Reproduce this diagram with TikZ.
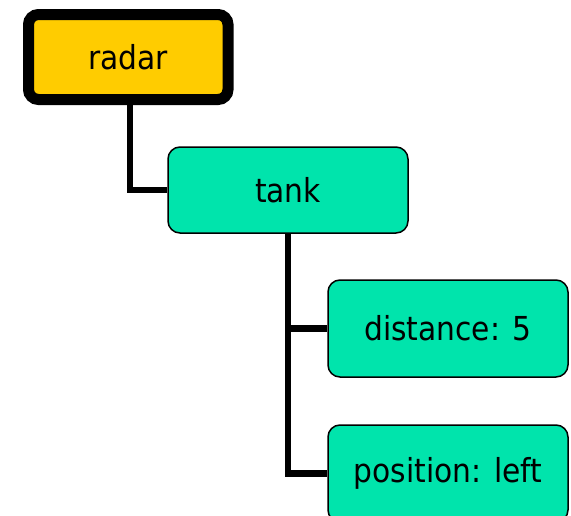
\documentclass[tikz,border=0pt]{standalone}
\usepackage{fontspec}
\setmainfont{DejaVu Sans Condensed}
\definecolor{rootfill}{HTML}{FFCC00}
\definecolor{leaffill}{HTML}{00E4AC}
\pgfdeclarelayer{back}
\pgfsetlayers{back,main}
\begin{document}
\begin{tikzpicture}[x=1pt,y=-1pt,
  boxfont/.style={font=\fontsize{33}{40}\selectfont},
  rootbox/.style={draw=black, line width=11pt, fill=rootfill, rounded corners=10pt,
    minimum width=199.5pt, minimum height=85pt, inner sep=0pt, boxfont},
  itembox/.style={draw=black, line width=1.5pt, fill=leaffill, rounded corners=12pt,
    minimum width=240pt, inner sep=0pt, boxfont},
  conn/.style={draw=black, line width=6.5pt}]
  \useasboundingbox (0,0) rectangle (571,515);
  \node[rootbox] (radar) at (128.25,57) {radar};
  \node[itembox, minimum height=86pt] (tank) at (288,190) {tank};
  \node[itembox, minimum height=97pt] (dist) at (448,328.5) {distance: 5};
  \node[itembox, minimum height=97pt] (pos) at (448,473.5) {position: left};
  \coordinate (rj) at (130,0);
  % tree connectors, behind the boxes
  \begin{pgfonlayer}{back}
    \path[conn] (radar.south -| rj) |- (tank.west);
    \path[conn] (tank.south) |- (pos.west);
    \path[conn] (tank.south |- dist.west) -- (dist.west);
  \end{pgfonlayer}
\end{tikzpicture}
\end{document}
